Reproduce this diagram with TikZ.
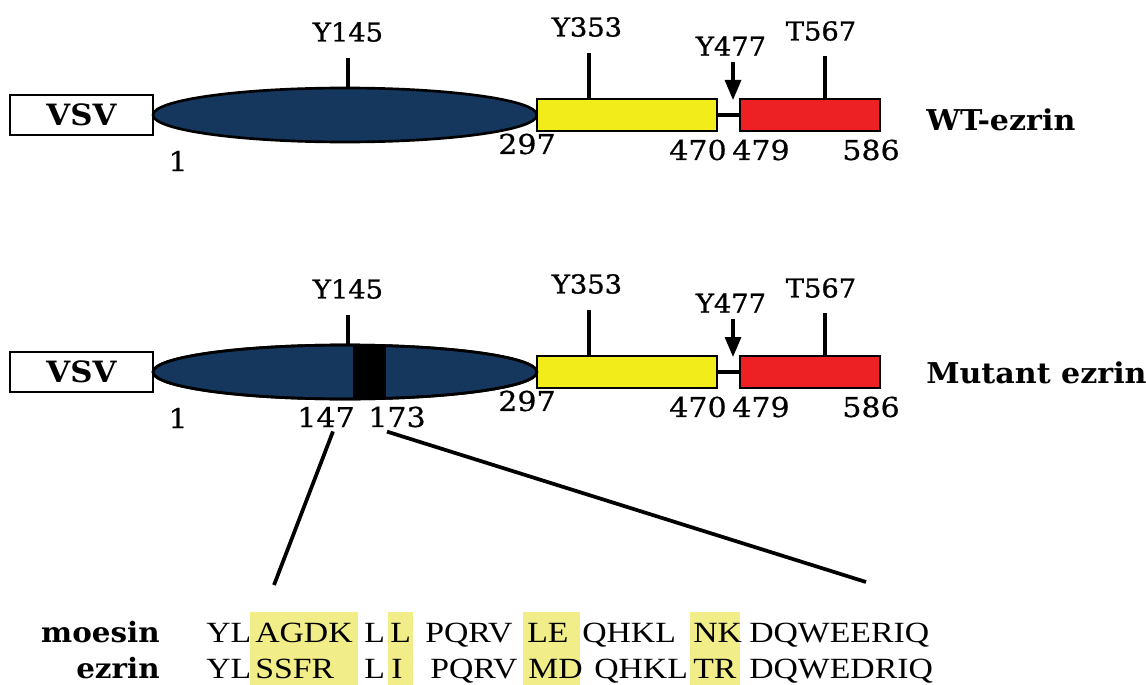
\documentclass[tikz,border=0pt]{standalone}
\usepackage{fontspec}
\setmainfont{DejaVu Serif}
\newfontfamily\labelfont[FakeBold=1]{DejaVu Serif}
\newfontfamily\numfont[FakeBold=0.6]{DejaVu Serif}
\newfontfamily\seqfont{Liberation Serif}
\usepackage{graphicx}
\usetikzlibrary{shapes.geometric,arrows.meta}
\definecolor{headblue}{RGB}{21,54,93}
\definecolor{midyellow}{RGB}{242,236,26}
\definecolor{tailred}{RGB}{237,32,36}
\definecolor{hilite}{RGB}{241,238,137}
\newcommand{\wideA}[1]{\scalebox{1.05}[1]{#1}}
\newcommand{\wideB}[1]{\scalebox{1.1}[1]{#1}}
\newcommand{\wideS}[1]{\scalebox{1.15}[1]{#1}}
\begin{document}
\begin{tikzpicture}[x=0.75pt,y=-0.75pt,
  box/.style={draw=black,line width=2pt,inner sep=0pt},
  tagbox/.style={box,fill=white,minimum width={143*0.75pt},minimum height={40*0.75pt},
    font=\fontsize{22}{22}\selectfont\bfseries},
  headdom/.style={box,ellipse,fill=headblue,minimum width={384*0.75pt},minimum height={54*0.75pt}},
  alphadom/.style={box,fill=midyellow,minimum width={180*0.75pt},minimum height={32*0.75pt}},
  taildom/.style={box,fill=tailred,minimum width={140*0.75pt},minimum height={32*0.75pt}},
  site/.style={inner sep=0pt,font=\fontsize{19.5}{19.5}\selectfont\labelfont},
  resno/.style={inner sep=0pt,font=\fontsize{20.5}{20.5}\selectfont\numfont},
  protname/.style={inner sep=0pt,anchor=west,font=\fontsize{21.5}{21.5}\selectfont\bfseries},
  tick/.style={line width=2.6pt},
  zoomline/.style={line width=2.8pt},
  seq/.style={inner sep=0pt,anchor=base west,font=\fontsize{22}{22}\selectfont\seqfont},
  seqname/.style={inner sep=0pt,anchor=base east,font=\fontsize{21}{21}\selectfont\bfseries},
  hl/.style={fill=hilite,draw=none}
]
\useasboundingbox (0,0) rectangle (1146,685);

% the two constructs, wild type and mutant
\foreach \r/\dy/\pname/\ny in {1/0/WT-ezrin/120, 2/257/Mutant ezrin/373}{
  \node[tagbox] (vsv\r) at (81.5,115+\dy) {\wideA{VSV}};
  \node[headdom] (head\r) at (345,115+\dy) {};
  \node[alphadom] (alpha\r) at (627,115+\dy) {};
  \node[taildom] (tail\r) at (810,115+\dy) {};
  \draw[line width=2.4pt] (alpha\r.east) -- (tail\r.west);

  % phosphorylation sites
  \draw[tick] (head\r.north) ++(3,0) -- ++(0,-29);
  \node[site] (s145\r) at (348,32+\dy) {\wideA{Y145}};
  \coordinate (p353\r) at (589,99+\dy);
  \draw[tick] (p353\r) -- ++(0,-46);
  \node[site] (s353\r) at (587,27+\dy) {\wideA{Y353}};
  \coordinate (p477a\r) at (733,62+\dy);
  \coordinate (p477b\r) at (733,100+\dy);
  \draw[line width=2.4pt,-{Triangle[length=15pt,width=12pt]}] (p477a\r) -- (p477b\r);
  \node[site] (s477\r) at (731,46+\dy) {\wideA{Y477}};
  \coordinate (p567\r) at (825,99+\dy);
  \draw[tick] (p567\r) -- ++(0,-43);
  \node[site] (s567\r) at (821,31+\dy) {\wideA{T567}};

  % residue numbers
  \node[resno] (n1\r) at (178,161+\dy) {\wideB{1}};
  \node[resno] (n297\r) at (527,144+\dy) {\wideB{297}};
  \node[resno] (n470\r) at (698,150+\dy) {\wideB{470}};
  \node[resno] (n479\r) at (761,150+\dy) {\wideB{479}};
  \node[resno] (n586\r) at (871,150+\dy) {\wideB{586}};

  \node[protname] (name\r) at (926,\ny) {\wideA{\pname}};
}

% exchanged segment in the mutant head domain
\begin{scope}
  \clip (head2.center) ellipse [x radius=192, y radius=27];
  \fill[black] (353,330) rectangle (386,410);
\end{scope}
\draw[line width=2pt] (head2.center) ellipse [x radius=192, y radius=27];
\node[resno] (n147) at (326,417) {\wideB{147}};
\node[resno] (n173) at (397,417) {\wideB{173}};

% expansion lines to the alignment
\coordinate (zl) at (274,585);
\coordinate (zr) at (866,582);
\draw[zoomline] (n147.south) ++(7,4) -- (zl);
\draw[zoomline] (n173.south) ++(-10,4) -- (zr);

% highlighted differing residues
\fill[hl] (250,612) rectangle (358,685);
\fill[hl] (388,612) rectangle (413,685);
\fill[hl] (523,612) rectangle (580,685);
\fill[hl] (690,612) rectangle (740,685);

% alignment
\node[seqname] (mname) at (160,642) {\wideA{moesin}};
\node[seqname] (ename) at (160,678) {\wideA{ezrin}};

\node[seq] (m1) at (206,642) {\wideS{YL}};
\node[seq] (m2) at (255,642) {\wideS{AGDK}};
\node[seq] (m3) at (364,642) {\wideS{L}};
\node[seq] (m4) at (390,642) {\wideS{L}};
\node[seq] (m5) at (425,642) {\wideS{PQRV}};
\node[seq] (m6) at (527,642) {\wideS{LE}};
\node[seq] (m7) at (582,642) {\wideS{QHKL}};
\node[seq] (m8) at (693,642) {\wideS{NK}};
\node[seq] (m9) at (749,642) {\wideS{DQWEERIQ}};

\node[seq] (e1) at (206,678) {\wideS{YL}};
\node[seq] (e2) at (255,678) {\wideS{SSFR}};
\node[seq] (e3) at (364,678) {\wideS{L}};
\node[seq] (e4) at (391,678) {\wideS{I}};
\node[seq] (e5) at (430,678) {\wideS{PQRV}};
\node[seq] (e6) at (528,678) {\wideS{MD}};
\node[seq] (e7) at (594,678) {\wideS{QHKL}};
\node[seq] (e8) at (693,678) {\wideS{TR}};
\node[seq] (e9) at (749,678) {\wideS{DQWEDRIQ}};
\end{tikzpicture}
\end{document}
